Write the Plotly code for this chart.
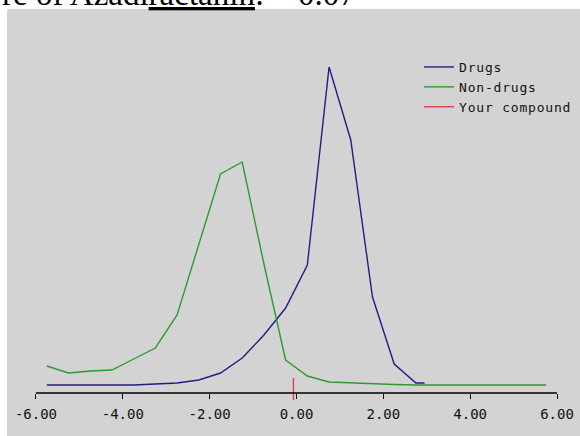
import plotly.graph_objects as go

# ---- data ----
bin_centers = [-5.75, -5.25, -4.75, -4.25, -3.75, -3.25, -2.75, -2.25, -1.75, -1.25,
               -0.75, -0.25, 0.25, 0.75, 1.25, 1.75, 2.25, 2.75, 3.25, 3.75,
               4.25, 4.75, 5.25, 5.75]
drugs_x = [-5.75, -5.25, -4.75, -4.25, -3.75, -3.25, -2.75, -2.25, -1.75, -1.25,
           -0.75, -0.25, 0.25, 0.75, 1.25, 1.75, 2.25, 2.75, 2.95]
drugs_y = [0, 0, 0, 0, 0, 1, 2, 5, 12, 27, 50, 77, 120, 318, 245, 88, 21, 2, 2]
nondrugs_y = [19, 12, 14, 15, 26, 37, 70, 141, 211, 223, 121, 25, 9, 3, 2, 1, 0.5,
              0, 0, 0, 0, 0, 0, 0]
series_names = ["Drugs", "Non-drugs", "Your compound"]
compound_score = -0.07
tick_vals = [-6, -4, -2, 0, 2, 4, 6]
tick_text = ["-6.00", "-4.00", "-2.00", "0.00", "2.00", "4.00", "6.00"]

W, H = 580, 436
L, T = 7, 9
PW, PH = W - L, H - T
XMIN, XMAX = -6.667, 6.529
YMIN, YMAX = -51, 376
MONO = "DejaVu Sans Mono"


def spaced(s):
    return f"<span style='letter-spacing:0.8px'>{s}</span>"


fig = go.Figure()
fig.add_trace(go.Scatter(x=drugs_x, y=drugs_y, mode="lines", name=spaced(series_names[0]),
                         line=dict(color="#1e1e86", width=1.4)))
fig.add_trace(go.Scatter(x=bin_centers, y=nondrugs_y, mode="lines", name=spaced(series_names[1]),
                         line=dict(color="#2f9a2f", width=1.4)))
fig.add_trace(go.Scatter(x=[compound_score, compound_score], y=[7, -15], mode="lines",
                         name=spaced(series_names[2]), line=dict(color="#e0404e", width=1.4)))

axis_pos = (H - 393) / PH

fig.update_layout(
    width=W, height=H,
    margin=dict(l=L, r=0, t=T, b=0, pad=0),
    paper_bgcolor="white",
    plot_bgcolor="#d3d3d3",
    showlegend=True,
    legend=dict(x=(419 - L) / PW, y=1 - (52 - T) / PH, xanchor="left", yanchor="top",
                bgcolor="rgba(0,0,0,0)", borderwidth=0,
                font=dict(family=MONO, size=13, color="#111111"),
                tracegroupgap=0),
    xaxis=dict(range=[XMIN, XMAX], anchor="free", position=axis_pos,
               showline=False,
               ticks="outside", ticklen=5, tickcolor="black", tickwidth=1.3,
               ticklabelstandoff=3,
               tickvals=tick_vals, ticktext=tick_text, showgrid=False, zeroline=False,
               tickfont=dict(family=MONO, size=14, color="#111111")),
    yaxis=dict(range=[YMIN, YMAX], visible=False, showgrid=False, zeroline=False),
    shapes=[
        dict(type="line", xref="x", yref="paper", x0=tick_vals[0], x1=tick_vals[-1],
             y0=axis_pos, y1=axis_pos, line=dict(color="black", width=1.3), layer="above"),
    ],
    annotations=[
        dict(xref="paper", yref="paper", x=-L / PW, y=1 + T / PH, xanchor="left",
             yanchor="bottom", yshift=-14, showarrow=False, align="left",
             text="re of Azadi<span style='text-decoration:underline'>ractanin</span>:",
             font=dict(family="Liberation Serif", size=33, color="black")),
        dict(xref="paper", yref="paper", x=(285 - L) / PW, y=1 + T / PH, xanchor="left",
             yanchor="bottom", yshift=-14, showarrow=False,
             text=f"{compound_score:.2f}",
             font=dict(family="Liberation Serif", size=33, color="black")),
    ],
)

fig.write_html("out.html")
